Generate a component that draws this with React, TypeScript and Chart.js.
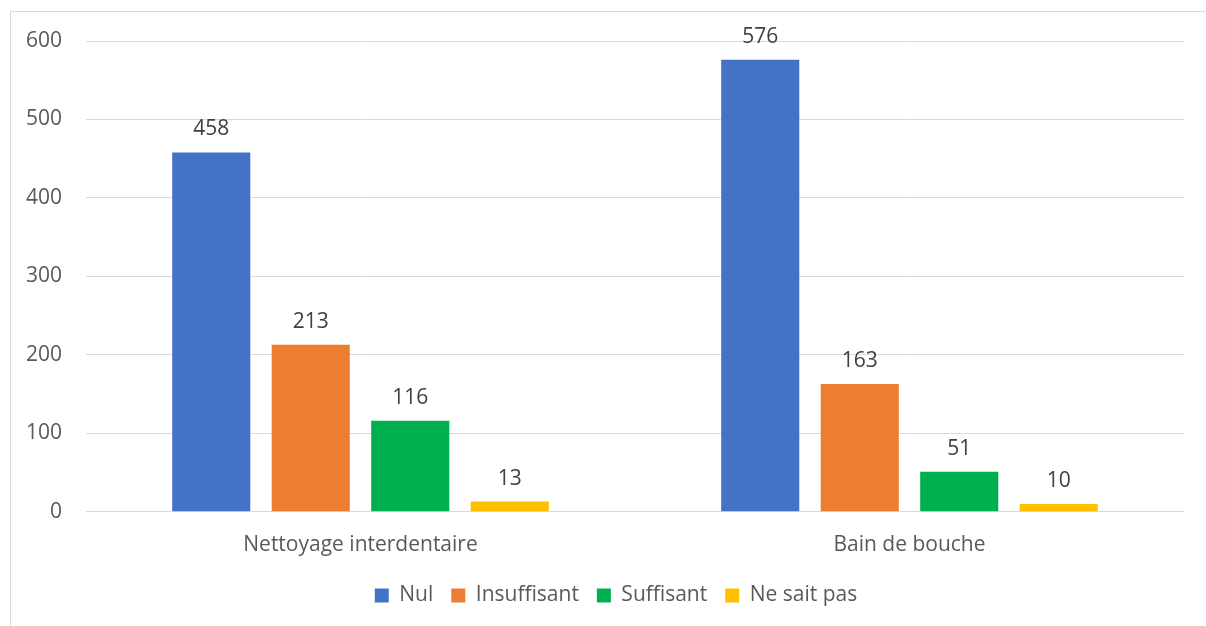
import React, { useEffect, useRef } from "react";
import { Chart, registerables } from "chart.js";

Chart.register(...registerables);

const categories = ["Nettoyage interdentaire", "Bain de bouche"];
const seriesNames = ["Nul", "Insuffisant", "Suffisant", "Ne sait pas"];
const nulValues = [458, 576];
const insuffisantValues = [213, 163];
const suffisantValues = [116, 51];
const neSaitPasValues = [13, 10];
const seriesColors = ["#4472C4", "#ED7D31", "#00B050", "#FFC000"];
const yTicks = [0, 100, 200, 300, 400, 500, 600];

const FONT = "'Open Sans', Lato, sans-serif";
const FS = 21;

const valueLabels = {
  id: "valueLabels",
  afterDatasetsDraw(chart: any) {
    const ctx = chart.ctx;
    ctx.save();
    ctx.font = `${FS}px ${FONT}`;
    ctx.fillStyle = "#404040";
    ctx.textAlign = "center";
    ctx.textBaseline = "alphabetic";
    chart.data.datasets.forEach((ds: any, i: number) => {
      const meta = chart.getDatasetMeta(i);
      meta.data.forEach((bar: any, j: number) => {
        ctx.fillText(String(ds.data[j]), bar.x, bar.y - 17);
      });
    });
    ctx.restore();
  },
};

const legendShift = {
  id: "legendShift",
  afterLayout(chart: any) {
    if (chart.legend) {
      chart.legend.left = 48;
    }
  },
};

export default function App() {
  const ref = useRef<HTMLCanvasElement | null>(null);
  useEffect(() => {
    if (!ref.current) return;
    const all = [nulValues, insuffisantValues, suffisantValues, neSaitPasValues];
    const chart = new Chart(ref.current, {
      type: "bar",
      data: {
        labels: categories,
        datasets: seriesNames.map((name, i) => ({
          label: name,
          data: all[i],
          backgroundColor: seriesColors[i],
          borderWidth: 0,
          categoryPercentage: 0.725,
          barPercentage: 0.785,
        })),
      },
      options: {
        animation: false,
        responsive: false,
        maintainAspectRatio: false,
        layout: { padding: { top: 41, right: 22, left: 0, bottom: 44 } },
        plugins: {
          legend: {
            position: "bottom",
            labels: {
              boxWidth: 14,
              boxHeight: 14,
              padding: 18,
              color: "#595959",
              font: { family: FONT, size: FS },
            },
          },
          tooltip: { enabled: false },
        },
        scales: {
          x: {
            grid: { display: false, drawTicks: false },
            border: { display: false },
            ticks: { color: "#595959", font: { family: FONT, size: FS }, padding: 21 },
            afterFit(scale: any) {
              scale.height = scale.height - 12;
            },
          },
          y: {
            min: 0,
            max: 600,
            afterBuildTicks(scale: any) {
              scale.ticks = yTicks.map((v) => ({ value: v }));
            },
            afterFit(scale: any) {
              scale.width = 86;
            },
            grid: { color: "#D9D9D9", lineWidth: 1, drawTicks: false },
            border: { display: false },
            ticks: { color: "#595959", font: { family: FONT, size: FS }, padding: 24 },
          },
        },
      },
      plugins: [valueLabels, legendShift],
    });
    return () => chart.destroy();
  }, []);

  return (
    <div style={{ position: "absolute", left: 0, top: 0, width: 1206, height: 626, background: "#fff", overflow: "hidden" }}>
      <div
        style={{
          position: "absolute",
          left: 10,
          top: 11,
          width: 1300,
          height: 700,
          border: "1px solid #D9D9D9",
          boxSizing: "border-box",
        }}
      />
      <canvas ref={ref} width={1206} height={660} style={{ position: "absolute", left: 0, top: 0 }} />
    </div>
  );
}
